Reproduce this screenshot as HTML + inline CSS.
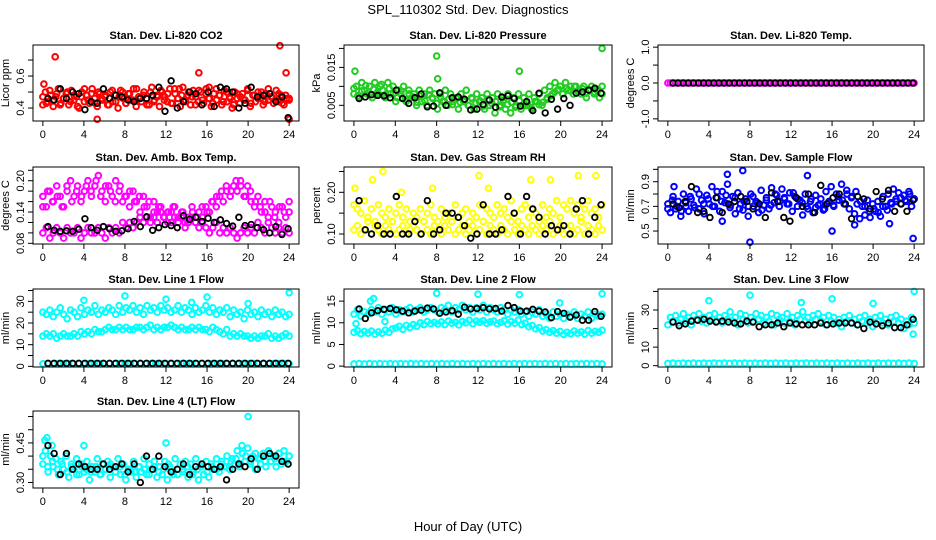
<!DOCTYPE html>
<html><head><meta charset="utf-8"><style>
html,body{margin:0;padding:0;background:#fff;}
svg{display:block;font-family:"Liberation Sans",sans-serif;}
</style></head><body>
<svg id="chart" width="936" height="540" viewBox="0 0 936 540">
<text x="468" y="14" text-anchor="middle" font-size="13">SPL_110302  Std. Dev. Diagnostics</text>
<text x="468" y="531" text-anchor="middle" font-size="13">Hour of Day (UTC)</text>
</svg>
<script>
// ---- data ----
const hourTicks = [0,4,8,12,16,20,24];

const co2Main = [0.42,0.50,0.44,0.48,0.41,0.47,0.52,0.43,0.46,0.49,0.42,0.51,0.45,0.47,0.40,0.50,0.44,0.48,0.43,0.52,0.46,0.41,0.49,0.45,0.47,0.42,0.50,0.44,0.48,0.40,0.51,0.46,0.43,0.49,0.45,0.52,0.41,0.47,0.44,0.50,0.46,0.42,0.53,0.45,0.48,0.41,0.50,0.47,0.44,0.52,0.43,0.49,0.46,0.41,0.53,0.45,0.48,0.42,0.51,0.47,0.44,0.50,0.43,0.52,0.46,0.41,0.49,0.45,0.48,0.42,0.51,0.44,0.47,0.40,0.50,0.46,0.43,0.49,0.45,0.52,0.41,0.48,0.44,0.50,0.46,0.42,0.49,0.45,0.47,0.43,0.51,0.44,0.48,0.42,0.46,0.45];
const co2Main2 = [0.47,0.43,0.51,0.45,0.49,0.42,0.46,0.50,0.44,0.48,0.41,0.47,0.52,0.45,0.49,0.43,0.50,0.46,0.48,0.42,0.51,0.44,0.47,0.50,0.43,0.49,0.45,0.52,0.46,0.48,0.42,0.50,0.44,0.47,0.51,0.45,0.49,0.43,0.52,0.46,0.48,0.44,0.50,0.47,0.42,0.51,0.45,0.49,0.46,0.43,0.52,0.48,0.44,0.50,0.46,0.42,0.49,0.47,0.45,0.51,0.43,0.48,0.46,0.50,0.44,0.52,0.47,0.45,0.49,0.43,0.48,0.46];
const co2OutHours = [1.2,23.1,23.7,15.2,5.3,24.0,0.1,16.2,13.3];
const co2OutVals = [0.72,0.79,0.62,0.62,0.33,0.33,0.55,0.53,0.52];
const co2Black = [0.46,0.45,0.52,0.46,0.50,0.49,0.39,0.44,0.43,0.52,0.46,0.48,0.47,0.45,0.44,0.46,0.46,0.48,0.53,0.38,0.57,0.40,0.44,0.50,0.49,0.42,0.50,0.41,0.53,0.52,0.50,0.40,0.43,0.53,0.47,0.48,0.49,0.44,0.47,0.34];

const presMain = [0.008,0.010,0.007,0.011,0.009,0.008,0.010,0.007,0.011,0.008,0.010,0.009,0.007,0.011,0.008,0.010,0.006,0.009,0.008,0.010,0.006,0.009,0.007,0.008,0.005,0.009,0.006,0.008,0.005,0.009,0.007,0.008,0.004,0.008,0.006,0.009,0.005,0.008,0.006,0.007,0.004,0.008,0.006,0.009,0.005,0.007,0.004,0.008,0.006,0.007,0.004,0.008,0.005,0.007,0.003,0.008,0.005,0.007,0.004,0.008,0.003,0.007,0.005,0.008,0.004,0.007,0.005,0.008,0.004,0.007,0.006,0.008,0.005,0.009,0.007,0.010,0.008,0.011,0.009,0.010,0.008,0.011,0.009,0.010,0.008,0.010,0.009,0.008,0.010,0.007,0.009,0.010,0.008,0.009,0.007,0.010];
const presMain2 = [0.0095,0.0075,0.0088,0.0102,0.0080,0.0092,0.0085,0.0105,0.0078,0.0094,0.0082,0.0070,0.0088,0.0065,0.0080,0.0072,0.0058,0.0075,0.0062,0.0078,0.0068,0.0055,0.0072,0.0060,0.0066,0.0052,0.0070,0.0058,0.0064,0.0050,0.0068,0.0056,0.0062,0.0048,0.0066,0.0055,0.0060,0.0046,0.0064,0.0052,0.0058,0.0045,0.0062,0.0050,0.0056,0.0044,0.0060,0.0052,0.0058,0.0066,0.0075,0.0085,0.0092,0.0080,0.0095,0.0088,0.0100,0.0086,0.0094,0.0082,0.0090,0.0085,0.0092,0.0080];
const presOutHours = [0.1,8.0,8.1,16.0,24.0];
const presOutVals = [0.014,0.018,0.012,0.014,0.020];
const presBlack = [0.0068,0.0072,0.0078,0.0076,0.0075,0.0070,0.0090,0.0068,0.0055,0.0070,0.0080,0.0046,0.0048,0.0083,0.0050,0.0070,0.0072,0.0066,0.0038,0.0040,0.0052,0.0064,0.0045,0.0072,0.0075,0.0068,0.0048,0.0060,0.0036,0.0082,0.0030,0.0066,0.0040,0.0068,0.0050,0.0082,0.0085,0.0090,0.0095,0.0082];

const tempMain = [0,0,0,0,0,0,0,0,0,0,0,0,0,0,0,0,0,0,0,0,0,0,0,0,0,0,0,0,0,0,0,0,0,0,0,0,0,0,0,0,0,0,0,0,0,0,0,0,0,0,0,0,0,0,0,0,0,0,0,0,0,0,0,0,0,0,0,0,0,0,0,0,0,0,0,0,0,0,0,0,0,0,0,0,0,0,0,0,0,0,0,0,0,0,0,0,0];
const tempBlack = [0,0,0,0,0,0,0,0,0,0,0,0,0,0,0,0,0,0,0,0,0,0,0,0,0,0,0,0,0,0,0,0,0,0,0,0,0,0,0,0,0,0,0,0,0,0,0,0];

const ambHi = [0.17,0.15,0.18,0.16,0.19,0.17,0.15,0.18,0.20,0.17,0.19,0.16,0.18,0.20,0.17,0.19,0.21,0.18,0.16,0.19,0.17,0.20,0.18,0.16,0.17,0.15,0.18,0.16,0.14,0.17,0.15,0.13,0.16,0.14,0.15,0.13,0.14,0.12,0.15,0.13,0.14,0.12,0.13,0.15,0.12,0.14,0.13,0.15,0.14,0.16,0.15,0.17,0.16,0.18,0.17,0.19,0.18,0.20,0.17,0.19,0.16,0.15,0.17,0.14,0.16,0.13,0.15,0.14,0.12,0.15,0.13,0.14];
const ambHi2 = [0.15,0.18,0.16,0.17,0.15,0.19,0.16,0.18,0.17,0.19,0.18,0.20,0.17,0.19,0.18,0.16,0.19,0.17,0.18,0.16,0.17,0.15,0.16,0.14,0.15,0.13,0.14,0.15,0.13,0.14,0.12,0.14,0.13,0.15,0.14,0.16,0.17,0.18,0.19,0.18,0.20,0.19,0.17,0.18,0.16,0.15,0.14,0.16,0.13,0.15,0.14,0.16];
const ambLo = [0.10,0.11,0.09,0.10,0.11,0.10,0.09,0.11,0.10,0.10,0.11,0.09,0.10,0.11,0.10,0.10,0.11,0.10,0.09,0.11,0.10,0.11,0.10,0.12,0.11,0.12,0.11,0.12,0.13,0.12,0.13,0.12,0.13,0.12,0.14,0.13,0.12,0.14,0.13,0.12,0.13,0.11,0.12,0.13,0.12,0.11,0.12,0.11,0.10,0.11,0.12,0.10,0.11,0.10,0.11,0.10,0.09,0.10,0.11,0.10,0.11,0.10,0.12,0.11,0.10,0.12,0.11,0.10,0.11,0.10,0.11,0.10];
const ambBlack = [0.112,0.105,0.103,0.104,0.103,0.107,0.127,0.110,0.105,0.112,0.108,0.103,0.104,0.108,0.122,0.112,0.131,0.105,0.110,0.116,0.114,0.110,0.133,0.126,0.130,0.122,0.128,0.120,0.125,0.118,0.113,0.130,0.114,0.116,0.110,0.106,0.100,0.112,0.097,0.108];

const rhLo = [0.11,0.12,0.10,0.11,0.13,0.10,0.12,0.11,0.10,0.12,0.11,0.13,0.10,0.11,0.12,0.10,0.11,0.12,0.11,0.10,0.13,0.11,0.10,0.12,0.11,0.10,0.12,0.11,0.13,0.10,0.11,0.12,0.10,0.11,0.12,0.10,0.11,0.13,0.10,0.12,0.11,0.10,0.12,0.11,0.10,0.13,0.11,0.10,0.12,0.11,0.10,0.12,0.11,0.10,0.12,0.11,0.13,0.10,0.11,0.12,0.10,0.11,0.12,0.10,0.11,0.13,0.10,0.12,0.11,0.10,0.12,0.11];
const rhHi = [0.17,0.16,0.15,0.18,0.14,0.16,0.13,0.17,0.15,0.14,0.16,0.13,0.15,0.17,0.14,0.16,0.13,0.15,0.14,0.16,0.13,0.15,0.17,0.14,0.13,0.16,0.14,0.15,0.13,0.17,0.14,0.15,0.16,0.13,0.15,0.14,0.17,0.13,0.16,0.15,0.14,0.17,0.15,0.16,0.14,0.18,0.15,0.13,0.16,0.17,0.14,0.16,0.15,0.13,0.17,0.14,0.16,0.15,0.18,0.14,0.17,0.16,0.18,0.15,0.17,0.14,0.16,0.18,0.15,0.16,0.14,0.17];
const rhOutHours = [0.1,1.8,2.8,12.1,13.0,17.1,19.0,21.7,23.4,4.6,7.6];
const rhOutVals = [0.21,0.23,0.25,0.24,0.21,0.23,0.23,0.24,0.24,0.20,0.21];
const rhBlack = [0.18,0.11,0.10,0.12,0.10,0.10,0.19,0.10,0.10,0.13,0.10,0.18,0.10,0.11,0.15,0.15,0.14,0.12,0.09,0.10,0.17,0.10,0.10,0.11,0.19,0.15,0.10,0.19,0.16,0.14,0.10,0.12,0.11,0.12,0.10,0.16,0.18,0.10,0.14,0.17];

const flowMain = [0.72,0.65,0.78,0.68,0.74,0.62,0.80,0.70,0.66,0.76,0.71,0.84,0.68,0.75,0.64,0.79,0.72,0.86,0.70,0.77,0.66,0.82,0.73,0.88,0.69,0.78,0.64,0.81,0.72,0.67,0.76,0.62,0.80,0.70,0.74,0.65,0.83,0.71,0.77,0.68,0.85,0.73,0.79,0.70,0.84,0.76,0.72,0.81,0.66,0.78,0.70,0.75,0.63,0.80,0.68,0.74,0.65,0.79,0.71,0.76,0.67,0.82,0.73,0.86,0.70,0.80,0.75,0.88,0.72,0.83,0.68,0.78,0.64,0.72,0.60,0.70,0.63,0.75,0.61,0.72,0.66,0.74,0.62,0.78,0.70,0.80,0.73,0.84,0.76,0.81,0.72,0.79,0.74,0.82,0.70,0.76];
const flowMain2 = [0.68,0.75,0.70,0.66,0.73,0.78,0.69,0.80,0.72,0.76,0.70,0.82,0.74,0.79,0.71,0.77,0.68,0.74,0.70,0.78,0.73,0.67,0.75,0.71,0.80,0.74,0.77,0.72,0.81,0.76,0.73,0.70,0.76,0.69,0.72,0.68,0.74,0.71,0.78,0.75,0.80,0.77,0.82,0.74,0.70,0.66,0.68,0.65,0.70,0.67,0.72,0.74,0.77,0.75,0.80,0.76];
const flowOutHours = [0.6,5.8,7.3,8.0,13.6,16.0,18.2,23.9,21.6,5.3];
const flowOutVals = [0.86,0.96,0.99,0.41,0.95,0.50,0.55,0.44,0.56,0.58];
const flowBlack = [0.72,0.69,0.74,0.86,0.65,0.66,0.61,0.77,0.65,0.72,0.74,0.78,0.74,0.68,0.72,0.61,0.81,0.74,0.61,0.58,0.77,0.70,0.80,0.65,0.87,0.72,0.77,0.80,0.72,0.60,0.78,0.76,0.68,0.82,0.76,0.83,0.66,0.72,0.66,0.75];

const l1Hi = [25,24,26,23,25,27,24,22,26,25,23,27,24,26,25,28,24,26,25,27,26,24,28,25,27,26,28,25,27,24,28,26,27,25,28,26,27,25,26,28,25,27,26,24,27,25,26,28,25,27,24,26,25,27,23,26,24,25,22,26,24,25,23,26,24,25,23,26,24,25,23,24];
const l1Mid = [14,15,14,15,13,14,15,14,14,15,14,16,15,16,15,17,16,16,17,18,17,17,18,17,18,17,17,18,18,17,18,19,17,18,17,18,18,19,18,17,18,17,17,18,17,18,17,17,16,18,17,16,15,17,14,15,14,15,14,14,13,14,13,14,14,15,13,14,13,14,15,14];
const l1Low = [1.2,1.3,1.2,1.3,1.2,1.3,1.2,1.3,1.2,1.3,1.2,1.3,1.2,1.3,1.2,1.3,1.2,1.3,1.2,1.3,1.2,1.3,1.2,1.3,1.2,1.3,1.2,1.3,1.2,1.3,1.2,1.3,1.2,1.3,1.2,1.3,1.2,1.3,1.2,1.3,1.2,1.3,1.2,1.3,1.2,1.3,1.2,1.3,1.2];
const l1OutHours = [4.0,8.0,12.0,16.0,20.0,24.0,14.5];
const l1OutVals = [30.5,32.5,31,32,29,34,29.5];
const l1Black = [1.4,1.4,1.4,1.4,1.4,1.4,1.4,1.4,1.4,1.4,1.4,1.4,1.4,1.4,1.4,1.4,1.4,1.4,1.4,1.4,1.4,1.4,1.4,1.4,1.4,1.4,1.4,1.4,1.4,1.4,1.4,1.4,1.4,1.4,1.4,1.4,1.4,1.4,1.4,1.4];

const l2Hi = [12,13,11.5,12.5,12,13,12.5,13.5,12,13,12.5,13.5,12,13,12.5,13,13.5,12.5,13,13.5,12.5,13,13.5,13,12.5,13.5,13,14,12.5,13.5,13,14,13,13.5,12.5,13.5,13,14,12.5,13.5,13,12.5,13.5,13,12,13,12.5,13,12,12.5,11.5,12.5,12,13,11.5,12,11,12.5,11.5,12,11,12,11.5,12.5,11,12,11.5,12.5,11,12,11.5,12];
const l2Mid = [7.8,8.2,7.5,8,7.6,8.1,7.4,7.9,7.6,8.3,7.8,8.6,8.8,9.2,8.5,9.4,8.9,9.6,9.2,10,9.6,10.3,9.8,10.1,9.7,10.2,9.6,10.4,9.9,10.1,9.5,10.3,10,10.6,9.8,10.4,10.1,10.5,9.9,10.2,10.4,9.8,10.1,10.5,9.7,10.3,9.9,10.6,9.6,9.9,9.1,9.4,8.6,8.9,8.1,8.4,7.8,8.2,7.6,8,7.3,7.8,7.5,8.1,7.6,7.9,7.4,8.2,7.6,8,7.8,8.3];
const l2Low = [0.5,0.6,0.5,0.6,0.5,0.6,0.5,0.6,0.5,0.6,0.5,0.6,0.5,0.6,0.5,0.6,0.5,0.6,0.5,0.6,0.5,0.6,0.5,0.6,0.5,0.6,0.5,0.6,0.5,0.6,0.5,0.6,0.5,0.6,0.5,0.6,0.5,0.6,0.5,0.6,0.5,0.6,0.5,0.6,0.5,0.6,0.5,0.6,0.5];
const l2OutHours = [0.2,1.6,1.9,8.0,12.0,16.0,19.9,24.0,3.0];
const l2OutVals = [9.8,15.0,15.6,16.8,16.6,16.5,14.6,16.7,10.3];
const l2Black = [13.2,11,12.3,12.8,13.1,13.3,13,12.7,12.3,12.7,12.9,13.4,13.2,12.2,12.5,12.8,12,13.6,13.2,13.3,13.5,13.2,13.3,12.7,14,13.5,12.7,12.7,13.1,12.7,12.5,11.2,12.6,12.2,11.3,11.8,10.6,10.6,12.6,11.5];

const l3Hi = [22,26,24,27,23,25,28,24,26,22,27,25,28,24,26,23,27,25,28,24,26,23,27,25,29,24,26,22,28,25,27,23,26,24,28,25,27,23,26,24,28,22,27,25,26,23,28,24,26,22,27,25,29,24,26,23,27,25,28,24,26,22,27,24,26,23,25,21,26,24,27,23,25,22,26,24,27,23,25,21,26,24,27,23,25,22,26,24,27,23,25,20,24,22,26,23];
const l3Low = [1.2,1.4,1.2,1.4,1.2,1.4,1.2,1.4,1.2,1.4,1.2,1.4,1.2,1.4,1.2,1.4,1.2,1.4,1.2,1.4,1.2,1.4,1.2,1.4,1.2,1.4,1.2,1.4,1.2,1.4,1.2,1.4,1.2,1.4,1.2,1.4,1.2,1.4,1.2,1.4,1.2,1.4,1.2,1.4,1.2,1.4,1.2,1.4,1.2];
const l3OutHours = [4.0,8.0,13.0,16.0,20.0,24.0,23.9];
const l3OutVals = [35,38,34,36,33.5,40,17];
const l3Black = [23.5,21.5,22.5,24,24.5,25,24,23.5,24,23.5,23,22.5,24,23.5,21,22,22,23,21,23,22.5,22,22,22,23,22,22.5,23,23,23,22,20,23.5,22.5,21.5,23,20.5,20.5,22,25];

const l4Main = [0.37,0.42,0.34,0.40,0.36,0.39,0.33,0.38,0.35,0.40,0.32,0.37,0.35,0.39,0.33,0.36,0.34,0.38,0.31,0.36,0.34,0.39,0.33,0.37,0.35,0.38,0.32,0.36,0.34,0.39,0.33,0.37,0.31,0.35,0.34,0.38,0.32,0.36,0.34,0.39,0.33,0.37,0.35,0.38,0.32,0.36,0.33,0.38,0.31,0.36,0.34,0.39,0.33,0.37,0.35,0.38,0.32,0.37,0.34,0.39,0.31,0.36,0.33,0.38,0.32,0.37,0.35,0.39,0.34,0.38,0.36,0.40,0.35,0.39,0.37,0.42,0.36,0.41,0.38,0.43,0.37,0.40,0.35,0.39,0.37,0.41,0.36,0.42,0.38,0.40,0.36,0.41,0.37,0.42,0.38,0.40];
const l4Main2 = [0.40,0.36,0.38,0.35,0.37,0.34,0.36,0.33,0.37,0.35,0.34,0.36,0.33,0.35,0.37,0.34,0.36,0.33,0.35,0.34,0.36,0.35,0.33,0.36,0.34,0.35,0.37,0.33,0.35,0.34,0.36,0.33,0.35,0.37,0.34,0.36,0.35,0.37,0.36,0.38,0.39,0.37,0.40,0.38,0.41,0.39,0.38,0.40,0.39,0.41,0.38,0.40];
const l4OutHours = [0.2,0.4,4.0,12.0,20.0,0.9,19.4];
const l4OutVals = [0.46,0.47,0.44,0.45,0.55,0.44,0.44];
const l4Black = [0.44,0.41,0.33,0.41,0.35,0.37,0.36,0.35,0.35,0.37,0.35,0.36,0.37,0.34,0.37,0.30,0.40,0.35,0.40,0.36,0.34,0.35,0.37,0.33,0.36,0.37,0.36,0.35,0.36,0.31,0.35,0.37,0.36,0.39,0.35,0.40,0.41,0.40,0.38,0.37];

// ---- layout ----
const NS = 'http://www.w3.org/2000/svg';
const svg = document.getElementById('chart');
const colLeft = [33, 344, 658];
const colRight = [299, 612, 924];
const rowTop = [45, 167, 289, 411];
const rowBot = [121, 244, 367, 488];

function el(tag, attrs, parent) {
  const e = document.createElementNS(NS, tag);
  for (const k in attrs) e.setAttribute(k, attrs[k]);
  (parent || svg).appendChild(e);
  return e;
}

function panel(cfg) {
  const L = colLeft[cfg.col], R = colRight[cfg.col], T = rowTop[cfg.row], B = rowBot[cfg.row];
  const g = el('g', {});
  
  
  const xs = h => L + (h + 0.96) / 25.92 * (R - L);
  const ys = v => B - (v - cfg.ymin) / (cfg.ymax - cfg.ymin) * (B - T);
  const t = el('text', {x: (L + R) / 2, y: T - 6, 'text-anchor': 'middle', 'font-size': 11, 'font-weight': 'bold'}, g);
  t.textContent = cfg.title;
  
  
  const pg = el('g', {fill: 'none'}, g);
  function drawPts(hours, vals, color, label, sw) {
    for (let i = 0; i < vals.length; i++) {
      const c = el('circle', {cx: xs(hours(i)), cy: ys(vals[i]), r: 2.8, stroke: color, 'stroke-width': sw}, pg);
      
      
    }
  }
  cfg.main.forEach(arr => drawPts(i => i * 24 / (arr.length - 1), arr, cfg.color, cfg.name + '-point', 2));
  if (cfg.outH) drawPts(i => cfg.outH[i], cfg.outV, cfg.color, cfg.name + '-point', 2);
  drawPts(i => 0.5 + i * 23.4 / (cfg.black.length - 1), cfg.black, '#000', cfg.name + '-hourly-point', 1.8);
  const box = el('rect', {x: L, y: T, width: R - L, height: B - T, fill: 'none', stroke: '#000', 'stroke-width': 1}, g);
  
  
  const xa = el('g', {'font-size': 11}, g);
  
  
  hourTicks.forEach(h => {
    el('line', {x1: xs(h), x2: xs(h), y1: B, y2: B + 5, stroke: '#000'}, xa);
    const lt = el('text', {x: xs(h), y: B + 17, 'text-anchor': 'middle'}, xa);
    lt.textContent = h;
  });
  const ya = el('g', {'font-size': 11}, g);
  
  
  cfg.yticks.forEach(v => {
    el('line', {x1: L, x2: L - 5, y1: ys(v), y2: ys(v), stroke: '#000'}, ya);
  });
  cfg.ylabels.forEach(s => {
    const v = parseFloat(s);
    const lt = el('text', {x: L - 9, y: ys(v), 'text-anchor': 'middle', transform: `rotate(-90 ${L - 9} ${ys(v)})`}, ya);
    lt.textContent = s;
  });
  const yt = el('text', {x: L - 24, y: (T + B) / 2, 'text-anchor': 'middle', 'font-size': 11, transform: `rotate(-90 ${L - 24} ${(T + B) / 2})`}, g);
  yt.textContent = cfg.ytitle;
  
  
}

panel({name:'co2', col:0, row:0, title:'Stan. Dev. Li-820 CO2', ytitle:'Licor ppm', color:'#ff0000', ymin:0.319, ymax:0.794, yticks:[0.4,0.5,0.6,0.7], ylabels:['0.4','0.6'], main:[co2Main, co2Main2], outH:co2OutHours, outV:co2OutVals, black:co2Black});
panel({name:'pressure', col:1, row:0, title:'Stan. Dev. Li-820 Pressure', ytitle:'kPa', color:'#22cc22', ymin:0.00087, ymax:0.0209, yticks:[0.005,0.01,0.015,0.02], ylabels:['0.005','0.015'], main:[presMain, presMain2], outH:presOutHours, outV:presOutVals, black:presBlack});
panel({name:'temp', col:2, row:0, title:'Stan. Dev. Li-820 Temp.', ytitle:'degrees C', color:'#ff00ff', ymin:-1.06, ymax:1.06, yticks:[-1,-0.5,0,0.5,1], ylabels:['-1.0','0.0','1.0'], main:[tempMain], black:tempBlack});
panel({name:'amb-box-temp', col:0, row:1, title:'Stan. Dev. Amb. Box Temp.', ytitle:'degrees C', color:'#ff00ff', ymin:0.0787, ymax:0.2263, yticks:[0.08,0.10,0.12,0.14,0.16,0.18,0.20,0.22], ylabels:['0.08','0.14','0.20'], main:[ambHi, ambHi2, ambLo], black:ambBlack});
panel({name:'gas-rh', col:1, row:1, title:'Stan. Dev. Gas Stream RH', ytitle:'percent', color:'#ffff00', ymin:0.076, ymax:0.2607, yticks:[0.10,0.15,0.20,0.25], ylabels:['0.10','0.20'], main:[rhLo, rhHi], outH:rhOutHours, outV:rhOutVals, black:rhBlack});
panel({name:'sample-flow', col:2, row:1, title:'Stan. Dev. Sample Flow', ytitle:'ml/min', color:'#0000ff', ymin:0.395, ymax:1.019, yticks:[0.5,0.6,0.7,0.8,0.9,1.0], ylabels:['0.5','0.7','0.9'], main:[flowMain, flowMain2], outH:flowOutHours, outV:flowOutVals, black:flowBlack});
panel({name:'line1-flow', col:0, row:2, title:'Stan. Dev. Line 1 Flow', ytitle:'ml/min', color:'#00ffff', ymin:-0.3, ymax:35.7, yticks:[0,5,10,15,20,25,30,35], ylabels:['0','10','20','30'], main:[l1Hi, l1Mid, l1Low], outH:l1OutHours, outV:l1OutVals, black:l1Black});
panel({name:'line2-flow', col:1, row:2, title:'Stan. Dev. Line 2 Flow', ytitle:'ml/min', color:'#00ffff', ymin:-0.2, ymax:17.8, yticks:[0,5,10,15], ylabels:['0','5','10','15'], main:[l2Hi, l2Mid, l2Low], outH:l2OutHours, outV:l2OutVals, black:l2Black});
panel({name:'line3-flow', col:2, row:2, title:'Stan. Dev. Line 3 Flow', ytitle:'ml/min', color:'#00ffff', ymin:-0.7, ymax:41.3, yticks:[0,10,20,30,40], ylabels:['0','10','30'], main:[l3Hi, l3Low], outH:l3OutHours, outV:l3OutVals, black:l3Black});
panel({name:'line4-flow', col:0, row:3, title:'Stan. Dev. Line 4 (LT) Flow', ytitle:'ml/min', color:'#00ffff', ymin:0.279, ymax:0.571, yticks:[0.30,0.35,0.40,0.45,0.50,0.55], ylabels:['0.30','0.45'], main:[l4Main, l4Main2], outH:l4OutHours, outV:l4OutVals, black:l4Black});
</script>
</body></html>
